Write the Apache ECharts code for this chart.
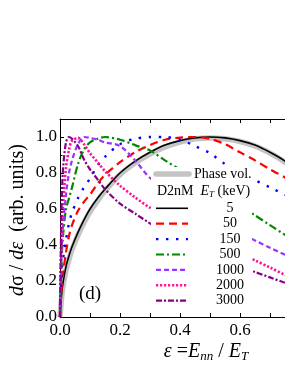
<!DOCTYPE html>
<html><head><meta charset="utf-8">
<script src="https://cdn.jsdelivr.net/npm/echarts@6/dist/echarts.min.js"></script>
<style>html,body{margin:0;padding:0;background:#fff}#c{width:285px;height:369px}</style>
</head><body><div id="c"></div>
<script>
var eps = [0, 0.005, 0.01, 0.02, 0.03, 0.04, 0.06, 0.08, 0.1, 0.125, 0.15, 0.2, 0.25, 0.3, 0.35, 0.4, 0.45, 0.5, 0.55, 0.6, 0.65, 0.7, 0.75, 0.8];
var phaseVol = [0, 0.10, 0.17, 0.26, 0.32, 0.375, 0.455, 0.525, 0.585, 0.645, 0.70, 0.79, 0.855, 0.905, 0.945, 0.972, 0.99, 0.995, 0.99, 0.975, 0.95, 0.91, 0.86, 0.795];
var e5    = [0, 0.12, 0.19, 0.28, 0.34, 0.39, 0.47, 0.54, 0.60, 0.66, 0.71, 0.80, 0.865, 0.915, 0.955, 0.98, 0.995, 1.0, 0.995, 0.98, 0.955, 0.915, 0.866, 0.80];
var e50   = [0, 0.15, 0.24, 0.36, 0.45, 0.51, 0.59, 0.64, 0.68, 0.74, 0.79, 0.86, 0.915, 0.955, 0.985, 0.997, 1.0, 0.99, 0.96, 0.915, 0.87, 0.82, 0.775, 0.72];
var e150  = [0, 0.24, 0.32, 0.43, 0.52, 0.58, 0.66, 0.72, 0.77, 0.84, 0.89, 0.96, 0.99, 1.0, 1.0, 0.985, 0.95, 0.91, 0.85, 0.80, 0.76, 0.72, 0.68, 0.64];
var e500  = [0, 0.30, 0.45, 0.60, 0.66, 0.72, 0.85, 0.93, 0.97, 0.99, 1.0, 0.985, 0.955, 0.925, 0.87, 0.82, 0.78, 0.72, 0.67, 0.62, 0.565, 0.51, 0.457, 0.41];
var e1000 = [0, 0.35, 0.50, 0.68, 0.80, 0.87, 0.96, 1.0, 0.995, 0.985, 0.97, 0.95, 0.87, 0.773, 0.72, 0.67, 0.62, 0.57, 0.52, 0.47, 0.425, 0.385, 0.346, 0.31];
var e2000 = [0, 0.45, 0.62, 0.83, 0.93, 0.98, 0.995, 0.96, 0.91, 0.86, 0.81, 0.73, 0.665, 0.607, 0.565, 0.52, 0.48, 0.44, 0.40, 0.355, 0.315, 0.275, 0.234, 0.20];
var e3000 = [0, 0.60, 0.82, 0.97, 1.0, 0.99, 0.95, 0.875, 0.82, 0.765, 0.71, 0.63, 0.575, 0.52, 0.47, 0.42, 0.38, 0.345, 0.31, 0.28, 0.25, 0.22, 0.19, 0.16];
var xTicks = [0.0, 0.2, 0.4, 0.6];
var yTicks = [0.0, 0.2, 0.4, 0.6, 0.8, 1.0];
var legendLabels = ['5', '50', '150', '500', '1000', '2000', '3000'];

var FONT = '"Liberation Serif", "DejaVu Serif", serif';
var styles = [
  {name: '5',    vals: e5,    color: '#000000', width: 1.6, dash: 'solid'},
  {name: '50',   vals: e50,   color: '#ff0000', width: 2.2, dash: [8, 5]},
  {name: '150',  vals: e150,  color: '#0000ff', width: 2.4, dash: [2.4, 7.6]},
  {name: '500',  vals: e500,  color: '#008800', width: 2.2, dash: [8, 3, 2, 3]},
  {name: '1000', vals: e1000, color: '#9933ff', width: 2.2, dash: [5, 3]},
  {name: '2000', vals: e2000, color: '#ff1493', width: 2.6, dash: [2.2, 1.8]},
  {name: '3000', vals: e3000, color: '#880088', width: 2.2, dash: [6, 2, 2, 2]}
];
function pairs(v){ return eps.map(function(e,i){ return [e, v[i]]; }); }

var series = [{
  name: 'Phase vol.', type: 'line', data: pairs(phaseVol), smooth: 0.3, showSymbol: false, symbol: 'none',
  lineStyle: {color: '#c4c4c4', width: 5.5}, z: 1, silent: true, animation: false
}];
styles.forEach(function(s){
  series.push({name: s.name, type: 'line', data: pairs(s.vals), smooth: 0.3, symbol: 'none', showSymbol: false,
    lineStyle: {color: s.color, width: s.width, type: s.dash, cap: 'butt'}, z: 2, animation: false, silent: true});
});

var gfx = [];
gfx.push({type: 'rect', shape: {x: 151, y: 167, width: 101, height: 141}, style: {fill: '#ffffff'}, z: 100});
gfx.push({type: 'line', shape: {x1: 156, y1: 174, x2: 189, y2: 174}, style: {stroke: '#c4c4c4', lineWidth: 5.5, lineCap: 'round'}, z: 101});
gfx.push({type: 'text', x: 194, y: 174, style: {text: 'Phase vol.', font: '14px ' + FONT, fill: '#000', textVerticalAlign: 'middle', textAlign: 'left'}, z: 101});
gfx.push({type: 'text', x: 157, y: 191, style: {text: 'D2nM  {i|E}{s|T}{n| (keV)}', font: '14px ' + FONT, fill: '#000', textVerticalAlign: 'middle', textAlign: 'left',
  rich: {i: {fontStyle: 'italic', fontSize: 14, fontFamily: FONT}, s: {fontStyle: 'italic', fontSize: 9, fontFamily: FONT, padding: [7, 0, 0, 0]}, n: {fontSize: 14, fontFamily: FONT}}}, z: 101});
var rowY = 208.3;
styles.forEach(function(s, i){
  var y = rowY + i * 15.4;
  var ls = {stroke: s.color, lineWidth: s.width};
  if (s.dash !== 'solid') ls.lineDash = s.dash;
  gfx.push({type: 'line', shape: {x1: 156, y1: y, x2: 188, y2: y}, style: ls, z: 101});
  gfx.push({type: 'text', x: 230, y: y, style: {text: legendLabels[i], font: '14px ' + FONT, fill: '#000', textAlign: 'center', textVerticalAlign: 'middle'}, z: 101});
});
gfx.push({type: 'text', x: 90, y: 294, style: {text: '(d)', font: '19px ' + FONT, fill: '#000', textAlign: 'center', textVerticalAlign: 'middle'}, z: 101});
gfx.push({type: 'text', x: 206, y: 352, style: {text: '{i|ε} ={i|E}{s|nn} / {i|E}{s|T}', font: '20px ' + FONT, fill: '#000', textAlign: 'center', textVerticalAlign: 'middle',
  rich: {i: {fontStyle: 'italic', fontSize: 20, fontFamily: FONT}, s: {fontStyle: 'italic', fontSize: 13, fontFamily: FONT, padding: [10, 0, 0, 0]}}}, z: 101});
gfx.push({type: 'text', x: 18, y: 220, rotation: Math.PI / 2, style: {text: '{i|d}σ / {i|dε}  (arb. units)', font: '20px ' + FONT, fill: '#000', textAlign: 'center', textVerticalAlign: 'middle',
  rich: {i: {fontStyle: 'italic', fontSize: 20, fontFamily: FONT}}}, z: 101});

var chart = echarts.init(document.getElementById('c'), null, {renderer: 'canvas'});
chart.setOption({
  animation: false,
  backgroundColor: '#ffffff',
  grid: {left: 60, top: 119, width: 240, height: 198, containLabel: false, outerBoundsMode: 'none'},
  xAxis: [{
    type: 'value', min: 0, max: 0.8, interval: 0.2, position: 'bottom',
    axisLine: {show: true, onZero: false, lineStyle: {color: '#000', width: 1}},
    axisTick: {show: true, inside: true, length: 4, lineStyle: {color: '#000'}},
    minorTick: {show: true, splitNumber: 2, length: 4, lineStyle: {color: '#000'}},
    splitLine: {show: false},
    axisLabel: {show: true, margin: 5, fontFamily: FONT, fontSize: 17, color: '#000',
      formatter: function(v){ return xTicks.indexOf(Math.round(v*10)/10) >= 0 ? v.toFixed(1) : ''; }}
  }, {
    type: 'value', min: 0, max: 0.8, interval: 0.2, position: 'top',
    axisLine: {show: true, onZero: false, lineStyle: {color: '#000', width: 1}},
    axisTick: {show: true, inside: true, length: 4, lineStyle: {color: '#000'}},
    minorTick: {show: true, splitNumber: 2, length: 4, lineStyle: {color: '#000'}},
    splitLine: {show: false}, axisLabel: {show: false}
  }],
  yAxis: [{
    type: 'value', min: 0, max: 1.1, interval: 0.2, position: 'left',
    axisLine: {show: true, onZero: false, lineStyle: {color: '#000', width: 1}},
    axisTick: {show: true, inside: true, length: 4, lineStyle: {color: '#000'}},
    minorTick: {show: true, splitNumber: 2, length: 2.5, lineStyle: {color: '#000'}},
    splitLine: {show: false},
    axisLabel: {show: true, margin: 3, fontFamily: FONT, fontSize: 17, color: '#000', showMaxLabel: false,
      formatter: function(v){ return yTicks.indexOf(Math.round(v*10)/10) >= 0 ? v.toFixed(1) : ''; }}
  }],
  series: series,
  graphic: gfx
});
</script></body></html>
